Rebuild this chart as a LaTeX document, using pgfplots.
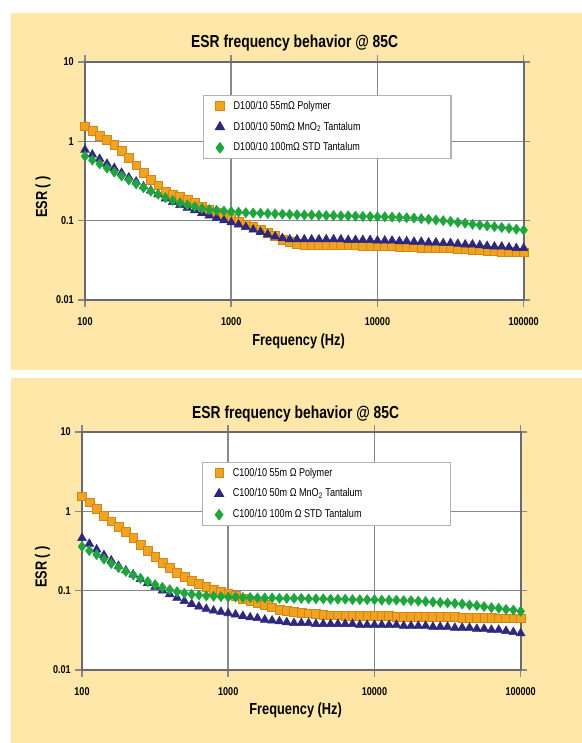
\documentclass[border=0pt]{standalone}
\usepackage{fontspec}
\setmainfont{Liberation Sans}[FakeStretch=0.8]
\usepackage{pgfplots}
\usepackage{pgfplotstable}
\pgfplotsset{compat=1.18}
\definecolor{cream}{RGB}{254,231,168}
\definecolor{cOr}{RGB}{240,162,32}
\definecolor{cOrD}{RGB}{210,135,20}
\definecolor{cBl}{RGB}{45,40,125}
\definecolor{cGr}{RGB}{32,165,62}
\definecolor{gridc}{RGB}{135,135,142}
\definecolor{framec}{RGB}{105,105,112}

\pgfplotstableread{
f a b c
100 1.55 0.78 0.65
112.2 1.35 0.68 0.58
125.9 1.18 0.60 0.52
141.3 1.04 0.52 0.46
158.5 0.90 0.46 0.41
177.8 0.76 0.40 0.365
199.5 0.62 0.35 0.325
223.9 0.50 0.31 0.29
251.2 0.40 0.27 0.26
281.8 0.33 0.24 0.235
316.2 0.28 0.215 0.215
354.8 0.235 0.19 0.195
398.1 0.215 0.172 0.18
446.7 0.20 0.157 0.168
501.2 0.185 0.145 0.158
562.3 0.168 0.135 0.150
631.0 0.152 0.125 0.143
707.9 0.138 0.116 0.138
794.3 0.125 0.108 0.135
891.3 0.114 0.101 0.132
1000 0.105 0.095 0.130
1122 0.097 0.089 0.128
1259 0.090 0.083 0.126
1413 0.083 0.077 0.125
1585 0.077 0.072 0.124
1778 0.071 0.067 0.123
1995 0.064 0.063 0.122
2239 0.058 0.060 0.121
2512 0.054 0.058 0.120
2818 0.051 0.058 0.119
3162 0.050 0.058 0.118
3548 0.049 0.058 0.118
3981 0.049 0.058 0.117
4467 0.049 0.058 0.116
5012 0.049 0.058 0.116
5623 0.049 0.058 0.115
6310 0.049 0.057 0.115
7079 0.049 0.057 0.114
7943 0.048 0.057 0.113
8913 0.048 0.057 0.113
10000 0.048 0.056 0.112
11220 0.048 0.056 0.112
12590 0.048 0.056 0.111
14130 0.047 0.055 0.110
15850 0.047 0.055 0.109
17780 0.047 0.054 0.108
19950 0.046 0.054 0.106
22390 0.046 0.053 0.104
25120 0.045 0.053 0.102
28180 0.045 0.052 0.100
31620 0.045 0.052 0.098
35480 0.044 0.051 0.095
39810 0.044 0.050 0.093
44670 0.043 0.050 0.090
50120 0.043 0.049 0.088
56230 0.042 0.048 0.086
63100 0.042 0.047 0.084
70790 0.041 0.047 0.082
79430 0.041 0.046 0.080
89130 0.040 0.045 0.078
100000 0.040 0.045 0.076
}\toptable

\pgfplotstableread{
f a b c
100 1.55 0.46 0.36
112.2 1.30 0.39 0.32
125.9 1.08 0.33 0.285
141.3 0.88 0.28 0.25
158.5 0.75 0.24 0.22
177.8 0.64 0.205 0.195
199.5 0.55 0.18 0.175
223.9 0.46 0.16 0.158
251.2 0.38 0.14 0.143
281.8 0.32 0.125 0.130
316.2 0.27 0.112 0.119
354.8 0.225 0.100 0.110
398.1 0.195 0.090 0.103
446.7 0.170 0.081 0.097
501.2 0.150 0.074 0.093
562.3 0.135 0.068 0.090
631.0 0.122 0.063 0.088
707.9 0.112 0.059 0.086
794.3 0.104 0.056 0.085
891.3 0.098 0.054 0.084
1000 0.093 0.052 0.083
1122 0.086 0.050 0.083
1259 0.080 0.048 0.082
1413 0.075 0.046 0.082
1585 0.070 0.045 0.081
1778 0.066 0.043 0.081
1995 0.062 0.042 0.081
2239 0.058 0.041 0.080
2512 0.056 0.040 0.080
2818 0.054 0.039 0.080
3162 0.053 0.039 0.080
3548 0.052 0.039 0.079
3981 0.051 0.038 0.079
4467 0.050 0.038 0.079
5012 0.049 0.038 0.078
5623 0.049 0.038 0.078
6310 0.048 0.038 0.078
7079 0.048 0.038 0.077
7943 0.048 0.037 0.077
8913 0.048 0.037 0.077
10000 0.048 0.037 0.077
11220 0.048 0.037 0.076
12590 0.048 0.037 0.076
14130 0.047 0.037 0.076
15850 0.047 0.036 0.075
17780 0.047 0.036 0.075
19950 0.047 0.036 0.074
22390 0.047 0.036 0.073
25120 0.047 0.035 0.072
28180 0.047 0.035 0.071
31620 0.047 0.035 0.070
35480 0.047 0.034 0.069
39810 0.046 0.034 0.068
44670 0.046 0.034 0.066
50120 0.046 0.033 0.065
56230 0.046 0.033 0.063
63100 0.046 0.032 0.061
70790 0.045 0.032 0.060
79430 0.045 0.031 0.058
89130 0.045 0.030 0.057
100000 0.045 0.029 0.055
}\bottable

\begin{document}
\begin{tikzpicture}
\fill[white] (0pt,0pt) rectangle (436.5pt,557.25pt);
\fill[cream] (8.25pt,279.75pt) rectangle (436.5pt,547.5pt);
\fill[cream] (8.25pt,0pt) rectangle (436.5pt,273.75pt);

\begin{axis}[at={(63.75pt,332.25pt)}, anchor=south west,
  scale only axis, width=329pt, height=178.5pt,
  xmode=log, ymode=log, xmin=100, xmax=100000, ymin=0.01, ymax=10,
  xtick={100,1000,10000,100000}, xticklabels={100,1000,10000,100000},
  ytick={0.01,0.1,1,10}, yticklabels={0.01,0.1,1,10},
  xminorticks=false, yminorticks=false,
  grid=major, major grid style={gridc, line width=1.1pt},
  axis line style={framec, line width=1.3pt},
  tick style={gridc, line width=1.1pt}, tick align=outside, major tick length=5pt,
  axis background/.style={fill=white},
  ticklabel style={font=\bfseries\fontsize{8.5}{9}\selectfont},
  xticklabel style={yshift=-5pt},
  every axis title shift=0pt,
  title={ESR frequency behavior @ 85C},
  title style={font=\bfseries\fontsize{13}{14}\selectfont, anchor=center, at={(axis description cs:0.478,1.08)}},
  xlabel={Frequency (Hz)},
  xlabel style={font=\bfseries\fontsize{12}{13}\selectfont, anchor=center, at={(axis description cs:0.487,-0.175)}},
  ylabel={ESR ( )},
  ylabel style={font=\bfseries\fontsize{12}{13}\selectfont, anchor=center, at={(axis description cs:-0.096,0.433)}},
  legend style={draw=gray!60, fill=white, line width=0.8pt,
    font=\fontsize{8.5}{10}\selectfont, row sep=4pt, column sep=5pt,
    inner xsep=9pt, inner ysep=2pt, at={(0.269,0.861)}, anchor=north west},
  legend cell align=left,
]
\addplot[only marks, mark=square*, mark size=3.3pt, color=cOrD, fill=cOr, line width=0.3pt] table[x=f,y=a] {\toptable};
\addlegendentry{\makebox[152pt][l]{D100/10 55mΩ Polymer}}
\addplot[only marks, mark=triangle*, mark size=3.8pt, color=cBl, fill=cBl] table[x=f,y=b] {\toptable};
\addlegendentry{\makebox[152pt][l]{D100/10 50mΩ MnO\textsubscript{2} Tantalum}}
\addplot[only marks, mark=diamond*, mark size=3.8pt, color=cGr, fill=cGr] table[x=f,y=c] {\toptable};
\addlegendentry{\makebox[152pt][l]{D100/10 100mΩ STD Tantalum}}
\end{axis}

\begin{axis}[at={(61.5pt,54.75pt)}, anchor=south west,
  scale only axis, width=329pt, height=178.5pt,
  xmode=log, ymode=log, xmin=100, xmax=100000, ymin=0.01, ymax=10,
  xtick={100,1000,10000,100000}, xticklabels={100,1000,10000,100000},
  ytick={0.01,0.1,1,10}, yticklabels={0.01,0.1,1,10},
  xminorticks=false, yminorticks=false,
  grid=major, major grid style={gridc, line width=1.1pt},
  axis line style={framec, line width=1.3pt},
  tick style={gridc, line width=1.1pt}, tick align=outside, major tick length=5pt,
  axis background/.style={fill=white},
  ticklabel style={font=\bfseries\fontsize{8.5}{9}\selectfont},
  xticklabel style={yshift=-5pt},
  every axis title shift=0pt,
  title={ESR frequency behavior @ 85C},
  title style={font=\bfseries\fontsize{13}{14}\selectfont, anchor=center, at={(axis description cs:0.487,1.075)}},
  xlabel={Frequency (Hz)},
  xlabel style={font=\bfseries\fontsize{12}{13}\selectfont, anchor=center, at={(axis description cs:0.487,-0.168)}},
  ylabel={ESR ( )},
  ylabel style={font=\bfseries\fontsize{12}{13}\selectfont, anchor=center, at={(axis description cs:-0.09,0.433)}},
  legend style={draw=gray!60, fill=white, line width=0.8pt,
    font=\fontsize{8.5}{10}\selectfont, row sep=4pt, column sep=5pt,
    inner xsep=9pt, inner ysep=2pt, at={(0.274,0.874)}, anchor=north west},
  legend cell align=left,
]
\addplot[only marks, mark=square*, mark size=3.3pt, color=cOrD, fill=cOr, line width=0.3pt] table[x=f,y=a] {\bottable};
\addlegendentry{\makebox[152pt][l]{C100/10 55m Ω Polymer}}
\addplot[only marks, mark=triangle*, mark size=3.8pt, color=cBl, fill=cBl] table[x=f,y=b] {\bottable};
\addlegendentry{\makebox[152pt][l]{C100/10 50m Ω MnO\textsubscript{2} Tantalum}}
\addplot[only marks, mark=diamond*, mark size=3.8pt, color=cGr, fill=cGr] table[x=f,y=c] {\bottable};
\addlegendentry{\makebox[152pt][l]{C100/10 100m Ω STD Tantalum}}
\end{axis}
\end{tikzpicture}
\end{document}
